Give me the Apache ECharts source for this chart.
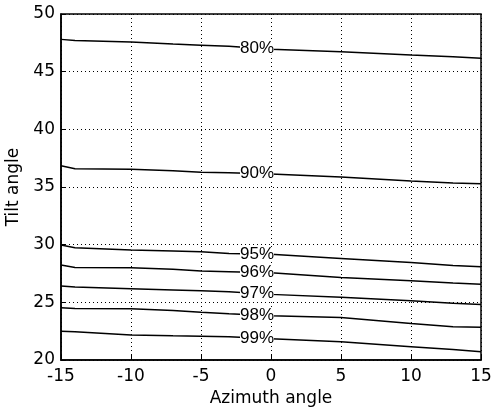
<!DOCTYPE html>
<html>
<head>
<meta charset="utf-8">
<script src="https://cdn.jsdelivr.net/npm/echarts@6/dist/echarts.min.js"></script>
<style>html,body{margin:0;padding:0;background:#fff}#c{width:492px;height:407px}</style>
</head>
<body>
<div id="c"></div>
<script>
// Azimuth sample points (x)
var azimuth = [-15, -14, -10, -7, -5, -3, 0, 5, 10, 13, 15];
// Tilt angle of each contour at those azimuths
var c80 = [47.8, 47.7, 47.57, 47.4, 47.3, 47.2, 46.94, 46.73, 46.44, 46.3, 46.16];
var c90 = [36.84, 36.58, 36.53, 36.4, 36.27, 36.24, 36.12, 35.86, 35.52, 35.35, 35.29];
var c95 = [29.97, 29.73, 29.53, 29.45, 29.38, 29.24, 29.16, 28.81, 28.46, 28.2, 28.08];
var c96 = [28.23, 28.03, 28.0, 27.86, 27.71, 27.65, 27.56, 27.16, 26.87, 26.68, 26.56];
var c97 = [26.41, 26.32, 26.18, 26.08, 26.0, 25.92, 25.69, 25.43, 25.14, 24.93, 24.82];
var c98 = [24.53, 24.47, 24.44, 24.30, 24.13, 24.0, 23.83, 23.69, 23.17, 22.88, 22.83];
var c99 = [22.5, 22.45, 22.16, 22.1, 22.07, 22.01, 21.84, 21.58, 21.15, 20.9, 20.71];
var contourLabels = ['80%', '90%', '95%', '96%', '97%', '98%', '99%'];
var contours = [c80, c90, c95, c96, c97, c98, c99];
var labelAzimuth = -1;
var xTicks = [-15, -10, -5, 0, 5, 10, 15];
var yTicks = [20, 25, 30, 35, 40, 45, 50];

function interp(xs, ys, x) {
  for (var i = 0; i < xs.length - 1; i++) {
    if (x >= xs[i] && x <= xs[i + 1]) {
      var t = (x - xs[i]) / (xs[i + 1] - xs[i]);
      return ys[i] + t * (ys[i + 1] - ys[i]);
    }
  }
  return ys[ys.length - 1];
}

var FONT = "'Liberation Sans', Arial, sans-serif";
var FONT2 = "'DejaVu Sans', sans-serif";
var series = contours.map(function (vals, k) {
  return {
    type: 'line',
    name: contourLabels[k],
    data: azimuth.map(function (a, i) { return [a, vals[i]]; }),
    symbol: 'none',
    lineStyle: { color: '#000', width: 1.5 },
    animation: false,
    markPoint: {
      symbol: 'rect',
      symbolSize: [34, 13],
      itemStyle: { color: '#fff' },
      label: {
        show: true, position: 'inside', color: '#000',
        fontFamily: FONT, fontSize: 17,
        formatter: contourLabels[k]
      },
      data: [{ coord: [labelAzimuth, interp(azimuth, vals, labelAzimuth)] }],
      animation: false
    }
  };
});

var chart = echarts.init(document.getElementById('c'));
chart.setOption({
  animation: false,
  backgroundColor: '#fff',
  grid: { left: 61, right: 11, top: 14, bottom: 47, containLabel: false, outerBoundsMode: 'none',
    show: true, borderColor: '#000', borderWidth: 1.5 },
  xAxis: {
    type: 'value', min: -15, max: 15, interval: 5,
    name: 'Azimuth angle', nameLocation: 'middle', nameGap: 29,
    nameTextStyle: { color: '#000', fontFamily: FONT2, fontSize: 17 },
    axisLine: { show: true, onZero: false, lineStyle: { color: '#000', width: 1.5 } },
    axisTick: { show: true, inside: true, length: 5, lineStyle: { color: '#000' } },
    axisLabel: { color: '#000', fontFamily: FONT2, fontSize: 17, margin: 8, hideOverlap: false,
      formatter: function (v) { return xTicks.indexOf(v) >= 0 ? String(v) : ''; } },
    splitLine: { show: true, lineStyle: { color: '#000', type: [1, 3], width: 1 } }
  },
  yAxis: {
    type: 'value', min: 20, max: 50, interval: 5,
    name: 'Tilt angle', nameLocation: 'middle', nameGap: 36,
    nameTextStyle: { color: '#000', fontFamily: FONT2, fontSize: 17 },
    axisLine: { show: true, onZero: false, lineStyle: { color: '#000', width: 1.5 } },
    axisTick: { show: true, inside: true, length: 5, lineStyle: { color: '#000' } },
    axisLabel: { color: '#000', fontFamily: FONT2, fontSize: 17, margin: 6, hideOverlap: false,
      formatter: function (v) { return yTicks.indexOf(v) >= 0 ? String(v) : ''; } },
    splitLine: { show: true, lineStyle: { color: '#000', type: [1, 3], width: 1 } }
  },
  series: series
});
</script>
</body>
</html>
